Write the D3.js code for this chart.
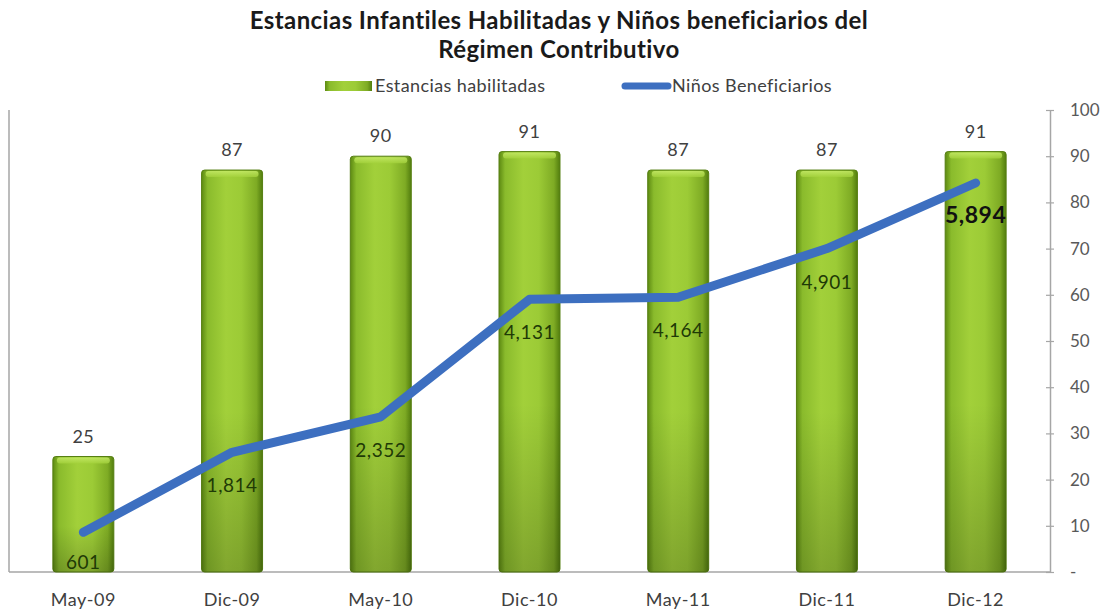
<!DOCTYPE html>
<html><head><meta charset="utf-8">
<script src="https://cdn.jsdelivr.net/npm/d3@7"></script>
<style>body{margin:0;background:#fff;} svg{display:block;font-family:Lato,"Open Sans",sans-serif;}</style>
</head><body>
<svg id="c" width="1109" height="609"></svg>
<script>
const categories = ["May-09","Dic-09","May-10","Dic-10","May-11","Dic-11","Dic-12"];
const estancias = [25,87,90,91,87,87,91];
const ninos = [601,1814,2352,4131,4164,4901,5894];
const yTicks = [0,10,20,30,40,50,60,70,80,90,100];
const titleLines = ["Estancias Infantiles Habilitadas y Niños beneficiarios del","Régimen Contributivo"];
const legendLabels = ["Estancias habilitadas","Niños Beneficiarios"];

(function(){
const svg = d3.select("#c");
const pL = 9, pR = 1050, pT = 110, pB = 572;

const x = d3.scaleBand().domain(categories).range([pL, pR]).paddingInner(0.59).paddingOuter(0.295);
const y = d3.scaleLinear().domain([0,100]).range([pB, pT]);
const y2 = d3.scaleLinear().domain([0,7000]).range([pB, pT]);

const defs = svg.append("defs");
const g1 = defs.append("linearGradient").attr("id","barH").attr("x1","0").attr("x2","1").attr("y1","0").attr("y2","0");
[[0,"#5d8a12"],[0.1,"#8abb2c"],[0.4,"#a2d03a"],[0.65,"#9ccb36"],[0.9,"#7eab24"],[1,"#527d0e"]].forEach(s=>g1.append("stop").attr("offset",s[0]).attr("stop-color",s[1]));
const g2 = defs.append("linearGradient").attr("id","barV").attr("x1","0").attr("x2","0").attr("y1","0").attr("y2","1");
[[0,"#ffffff",0.0],[0.6,"#000000",0.0],[1,"#000000",0.2]].forEach(s=>g2.append("stop").attr("offset",s[0]).attr("stop-color",s[1]).attr("stop-opacity",s[2]));
const g3 = defs.append("linearGradient").attr("id","barTop").attr("x1","0").attr("x2","0").attr("y1","0").attr("y2","1");
[[0,"#c8ec6a"],[1,"#a4d23c"]].forEach(s=>g3.append("stop").attr("offset",s[0]).attr("stop-color",s[1]));

svg.append("line").attr("x1",pL).attr("x2",pL).attr("y1",pT).attr("y2",pB).attr("stroke","#a6a6a6").attr("stroke-width",1.5);
svg.append("line").attr("x1",pL).attr("x2",pR).attr("y1",pB).attr("y2",pB).attr("stroke","#a6a6a6").attr("stroke-width",1.5);

const ax = svg.append("g").attr("transform",`translate(${pR},0)`)
  .call(d3.axisRight(y).tickValues(yTicks).tickSize(0).tickPadding(20).tickFormat(d=>d===0?"-":d));
ax.select(".domain").attr("stroke","#a6a6a6").attr("stroke-width",1.5);
ax.selectAll(".tick text").attr("font-size",17).attr("fill","#595959").attr("font-family","Lato,'Open Sans',sans-serif");
ax.selectAll(".tick").append("line").attr("x1",-4).attr("x2",4).attr("stroke","#a6a6a6").attr("stroke-width",1.2);

const bars = svg.append("g");
categories.forEach((c,i)=>{
  const bx = x(c), bw = x.bandwidth(), by = y(estancias[i]), bh = pB - by;
  bars.append("rect").attr("x",bx).attr("y",by).attr("width",bw).attr("height",bh).attr("rx",3).attr("fill","url(#barH)").attr("stroke","#567f12").attr("stroke-width",1);
  bars.append("rect").attr("x",bx).attr("y",by).attr("width",bw).attr("height",bh).attr("rx",3).attr("fill","url(#barV)");
  bars.append("rect").attr("x",bx+4).attr("y",by+1).attr("width",bw-8).attr("height",6).attr("rx",3).attr("fill","url(#barTop)").attr("opacity",0.8);
  bars.append("text").attr("x",bx+bw/2).attr("y",by-14).attr("text-anchor","middle").attr("font-size",18).attr("letter-spacing",0.5).attr("fill","#404040").text(estancias[i]);
});

const line = d3.line().x((d,i)=>x(categories[i])+x.bandwidth()/2).y(d=>y2(d));
svg.append("path").datum(ninos).attr("d",line).attr("fill","none").attr("stroke","#3d6fc0").attr("stroke-width",9).attr("stroke-linejoin","round").attr("stroke-linecap","round");

const fmt = d3.format(",");
ninos.forEach((v,i)=>{
  const last = i === ninos.length-1;
  const cx = x(categories[i])+x.bandwidth()/2;
  let ly = y2(v)+40;
  if (i===0) ly = pB-3;
  svg.append("text").attr("x",cx).attr("y",ly).attr("text-anchor","middle")
    .attr("font-size", last?23:19).attr("font-weight", last?"bold":"normal").attr("letter-spacing",0.5)
    .attr("fill", last?"#111":"#1f3a06").text(fmt(v));
});

categories.forEach(c=>{
  svg.append("text").attr("x",x(c)+x.bandwidth()/2).attr("y",606).attr("text-anchor","middle").attr("font-size",18).attr("letter-spacing",0.5).attr("fill","#404040").text(c);
});

titleLines.forEach((t,i)=>{
  svg.append("text").attr("x",559).attr("y",29+i*29).attr("text-anchor","middle").attr("font-size",24).attr("font-weight","bold").attr("letter-spacing",0.4).attr("fill","#1a1a1a").text(t);
});

const lg = svg.append("g");
lg.append("rect").attr("x",325).attr("y",81).attr("width",47).attr("height",10).attr("fill","url(#barH)");
lg.append("text").attr("x",375).attr("y",92).attr("font-size",18).attr("letter-spacing",0.4).attr("fill","#404040").text(legendLabels[0]);
lg.append("line").attr("x1",625).attr("x2",668).attr("y1",86).attr("y2",86).attr("stroke","#3d6fc0").attr("stroke-width",7).attr("stroke-linecap","round");
lg.append("text").attr("x",672).attr("y",92).attr("font-size",18).attr("letter-spacing",0.4).attr("fill","#404040").text(legendLabels[1]);
})();
</script>
</body></html>
